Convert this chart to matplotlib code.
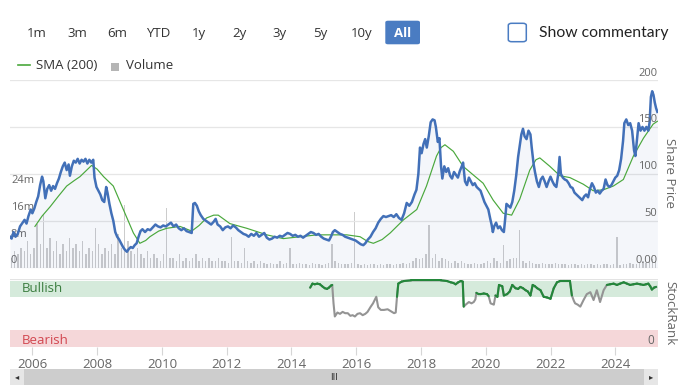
import matplotlib
matplotlib.use("Agg")
import matplotlib.pyplot as plt
import numpy as np
from matplotlib.collections import LineCollection
from matplotlib.patches import FancyBboxPatch, Rectangle
from matplotlib.lines import Line2D
import matplotlib.transforms as mtransforms

W, H = 682, 391
plt.rcParams['font.family'] = ['Open Sans', 'DejaVu Sans']

# ---------------- data ----------------
range_labels = ['1m', '3m', '6m', 'YTD', '1y', '2y', '3y', '5y', '10y', 'All']
range_x = [36.7, 77.3, 117.3, 158.3, 199.3, 239.3, 279.3, 320, 361.7, 402.7]

price_years = [
    2005.31, 2005.36, 2005.42, 2005.48, 2005.55, 2005.62, 2005.70, 2005.76, 2005.82, 2005.88,
    2005.95, 2006.00, 2006.06, 2006.12, 2006.18, 2006.24, 2006.30, 2006.34, 2006.40, 2006.46,
    2006.52, 2006.58, 2006.64, 2006.70, 2006.76, 2006.82, 2006.88, 2006.94, 2007.00, 2007.06,
    2007.12, 2007.16, 2007.22, 2007.28, 2007.34, 2007.40, 2007.46, 2007.52, 2007.58, 2007.64,
    2007.70, 2007.76, 2007.82, 2007.88, 2007.92, 2007.98, 2008.04, 2008.10, 2008.16, 2008.22,
    2008.28, 2008.32, 2008.38, 2008.44, 2008.50, 2008.56, 2008.62, 2008.68, 2008.74, 2008.80,
    2008.86, 2008.92, 2008.98, 2009.04, 2009.10, 2009.16, 2009.22, 2009.28, 2009.34, 2009.40,
    2009.48, 2009.56, 2009.64, 2009.72, 2009.80, 2009.88, 2009.96, 2010.04, 2010.12, 2010.20,
    2010.28, 2010.36, 2010.44, 2010.52, 2010.60, 2010.68, 2010.76, 2010.84, 2010.92, 2010.97,
    2011.02, 2011.08, 2011.14, 2011.20, 2011.28, 2011.36, 2011.44, 2011.52, 2011.60, 2011.66,
    2011.72, 2011.80, 2011.88, 2011.96, 2012.04, 2012.12, 2012.20, 2012.28, 2012.36, 2012.44,
    2012.52, 2012.60, 2012.68, 2012.76, 2012.84, 2012.92, 2013.00, 2013.08, 2013.16, 2013.24,
    2013.32, 2013.40, 2013.48, 2013.56, 2013.64, 2013.72, 2013.80, 2013.88, 2013.96, 2014.04,
    2014.12, 2014.20, 2014.28, 2014.36, 2014.44, 2014.52, 2014.60, 2014.68, 2014.76, 2014.84,
    2014.92, 2015.00, 2015.08, 2015.16, 2015.22, 2015.28, 2015.34, 2015.42, 2015.50, 2015.58,
    2015.66, 2015.74, 2015.82, 2015.90, 2015.98, 2016.06, 2016.14, 2016.22, 2016.28, 2016.36,
    2016.44, 2016.52, 2016.60, 2016.68, 2016.76, 2016.84, 2016.92, 2017.00, 2017.08, 2017.16,
    2017.24, 2017.32, 2017.40, 2017.48, 2017.56, 2017.64, 2017.72, 2017.80, 2017.86, 2017.92,
    2017.97, 2018.02, 2018.08, 2018.13, 2018.18, 2018.24, 2018.30, 2018.36, 2018.42, 2018.46,
    2018.52, 2018.57, 2018.62, 2018.66, 2018.72, 2018.78, 2018.84, 2018.90, 2018.96, 2019.02,
    2019.08, 2019.14, 2019.20, 2019.26, 2019.30, 2019.36, 2019.42, 2019.48, 2019.54, 2019.60,
    2019.66, 2019.72, 2019.78, 2019.84, 2019.90, 2019.96, 2020.02, 2020.08, 2020.14, 2020.18,
    2020.22, 2020.26, 2020.32, 2020.38, 2020.44, 2020.50, 2020.56, 2020.60, 2020.64, 2020.70,
    2020.76, 2020.82, 2020.88, 2020.94, 2021.00, 2021.05, 2021.10, 2021.15, 2021.20, 2021.26,
    2021.32, 2021.38, 2021.42, 2021.48, 2021.52, 2021.58, 2021.64, 2021.70, 2021.76, 2021.82,
    2021.88, 2021.94, 2022.00, 2022.06, 2022.12, 2022.18, 2022.24, 2022.28, 2022.32, 2022.38,
    2022.44, 2022.50, 2022.56, 2022.62, 2022.68, 2022.74, 2022.80, 2022.86, 2022.92, 2022.98,
    2023.04, 2023.10, 2023.16, 2023.22, 2023.28, 2023.34, 2023.40, 2023.46, 2023.52, 2023.58,
    2023.64, 2023.70, 2023.76, 2023.82, 2023.88, 2023.94, 2024.00, 2024.06, 2024.12, 2024.18,
    2024.24, 2024.28, 2024.34, 2024.40, 2024.46, 2024.52, 2024.58, 2024.62, 2024.68, 2024.72,
    2024.78, 2024.84, 2024.90, 2024.96, 2025.02, 2025.06, 2025.10, 2025.14, 2025.18, 2025.22,
    2025.26, 2025.30]
price_vals = [
    33, 31, 38, 33, 36, 44, 48, 51, 47, 55,
    62, 58, 63, 70, 76, 88, 97, 92, 74, 84,
    88, 82, 87, 84, 90, 95, 102, 108, 112, 104,
    110, 98, 108, 114, 112, 116, 111, 115, 113, 116,
    111, 115, 112, 115, 96, 86, 82, 78, 72, 70,
    86, 80, 68, 58, 50, 38, 33, 30, 26, 22,
    19, 17, 20, 22, 21, 24, 26, 33, 39, 41,
    38, 41, 40, 43, 46, 44, 43, 45, 44, 46,
    48, 44, 46, 42, 40, 42, 39, 38, 37, 68,
    69, 66, 60, 56, 52, 50, 48, 46, 49, 52,
    46, 44, 40, 43, 44, 42, 45, 43, 40, 38,
    36, 35, 33, 36, 34, 37, 33, 35, 37, 32,
    30, 31, 33, 32, 34, 33, 35, 37, 36, 34,
    35, 33, 34, 32, 34, 36, 38, 37, 35, 36,
    33, 31, 30, 29, 33, 38, 40, 38, 36, 35,
    33, 32, 31, 30, 29, 27, 25, 24, 26, 30,
    33, 38, 42, 48, 52, 55, 54, 55, 56, 54,
    57, 53, 51, 58, 69, 66, 70, 78, 83, 100,
    128, 122, 132, 137, 128, 140, 155, 158, 157, 150,
    134, 138, 108, 95, 108, 102, 106, 98, 95, 102,
    99, 96, 103, 108, 112, 92, 88, 96, 92, 88,
    90, 86, 84, 82, 76, 70, 66, 62, 52, 46,
    38, 44, 48, 42, 44, 40, 38, 52, 68, 66,
    64, 70, 82, 98, 118, 130, 142, 148, 140, 137,
    146, 142, 128, 110, 102, 92, 86, 94, 97, 92,
    86, 92, 97, 92, 88, 86, 100, 118, 100, 96,
    94, 93, 90, 86, 85, 80, 78, 76, 74, 72,
    76, 78, 75, 84, 90, 86, 80, 82, 79, 82,
    84, 94, 88, 86, 88, 92, 96, 98, 104, 116,
    135, 154, 158, 152, 154, 146, 125, 119, 140, 154,
    146, 150, 146, 150, 146, 155, 182, 188, 184, 176,
    170, 166]

sma_years = [2006.08, 2006.30, 2006.55, 2006.80, 2007.06, 2007.30, 2007.47, 2007.65, 2007.83, 2008.00,
             2008.20, 2008.50, 2008.81, 2009.12, 2009.32, 2009.50, 2009.63, 2009.90, 2010.15, 2010.56,
             2010.92, 2011.15, 2011.38, 2011.60, 2011.74, 2011.90, 2012.10, 2012.62, 2013.24, 2013.75,
             2014.27, 2014.79, 2015.30, 2015.71, 2016.12, 2016.35, 2016.53, 2016.80, 2017.05, 2017.46,
             2017.87, 2018.17, 2018.48, 2018.62, 2018.74, 2019.00, 2019.30, 2019.61, 2019.92, 2020.23,
             2020.54, 2020.80, 2021.05, 2021.36, 2021.55, 2021.67, 2021.98, 2022.29, 2022.60, 2023.01,
             2023.32, 2023.63, 2023.94, 2024.25, 2024.56, 2024.87, 2025.17, 2025.30]
sma_vals = [44, 55, 65, 76, 87, 93, 97, 103, 109, 105,
            97, 87, 62, 37, 26, 29, 33, 39, 42, 44,
            39, 45, 53, 56, 56, 52, 47, 42, 35, 31,
            33, 35, 35, 35, 33, 28, 26, 30, 37, 51,
            62, 87, 119, 128, 131, 124, 108, 99, 90, 72,
            58, 56, 73, 104, 115, 117, 108, 98, 96, 89,
            82, 83, 87, 94, 119, 138, 153, 156]

vol_first_year = 2005.35
vol_step = 0.1
volume_m = [
    3, 5, 4, 6, 5, 8, 4, 6, 13, 7,
    16, 6, 9, 5, 8, 4, 7, 5, 9, 6,
    7, 5, 8, 4, 6, 5, 12, 7, 4, 6,
    5, 7, 4, 10, 6, 18.8, 8, 5, 4, 6,
    4, 3, 5, 3, 4, 3, 2, 4, 17.8, 3,
    3, 2, 4, 2, 3, 2, 3, 4, 2, 3,
    2, 3, 2, 2, 3, 2, 2, 1.5, 9.3, 2,
    2, 1.5, 6, 2, 1.5, 2, 1.2, 2, 1.5, 1,
    1.5, 1, 1.2, 2, 1, 1.5, 5.8, 1.2, 1, 1.5,
    1, 1.2, 0.8, 1.5, 1, 1.2, 0.8, 1, 1.5, 7,
    2, 1.5, 1, 1.2, 1, 1.5, 16.8, 1.2, 0.8, 1,
    0.8, 1, 1.2, 0.8, 1, 0.8, 1.2, 1, 0.8, 1,
    1, 1.5, 1.2, 1.5, 2, 3, 2.5, 3, 4, 12.8,
    3, 4, 2, 3, 2.5, 2, 1.5, 2, 1.5, 2,
    1.5, 1.2, 1, 1.5, 1.2, 1, 1.5, 2, 1.5, 3,
    2, 1.5, 6.8, 2, 2.5, 3, 3, 11.3, 2, 1.5,
    2, 1.5, 1.2, 1, 1.5, 1, 1.2, 1, 1.5, 1,
    1.2, 1, 0.8, 1, 1.2, 0.8, 1, 0.8, 1, 1.2,
    0.8, 1, 0.8, 1.2, 1, 0.8, 1, 9.3, 0.8, 1.2,
    1, 1.5, 1.2, 1, 1.5, 2, 1.5, 2, 2.5, 2]

rank_years = [2014.58, 2014.65, 2014.72, 2014.80, 2014.88, 2014.95, 2015.03, 2015.10, 2015.16, 2015.22,
              2015.26, 2015.30, 2015.34, 2015.42, 2015.50, 2015.58, 2015.66, 2015.74, 2015.82, 2015.89,
              2015.96, 2016.04, 2016.12, 2016.20, 2016.28, 2016.35, 2016.45, 2016.52, 2016.58, 2016.62,
              2016.68, 2016.76, 2016.86, 2016.97, 2017.07, 2017.17, 2017.22, 2017.26, 2017.30, 2017.40,
              2017.48, 2017.70, 2018.00, 2018.30, 2018.61, 2018.80, 2018.92, 2019.00, 2019.07, 2019.15,
              2019.23, 2019.29, 2019.32, 2019.38, 2019.48, 2019.56, 2019.63, 2019.68, 2019.71, 2019.78,
              2019.84, 2019.94, 2020.04, 2020.09, 2020.15, 2020.25, 2020.30, 2020.36, 2020.41, 2020.51,
              2020.56, 2020.66, 2020.74, 2020.82, 2020.92, 2021.00, 2021.07, 2021.15, 2021.23, 2021.30,
              2021.38, 2021.45, 2021.52, 2021.59, 2021.69, 2021.79, 2021.89, 2022.00, 2022.10, 2022.20,
              2022.30, 2022.41, 2022.50, 2022.60, 2022.66, 2022.72, 2022.76, 2022.84, 2022.92, 2023.02,
              2023.12, 2023.23, 2023.33, 2023.43, 2023.53, 2023.64, 2023.74, 2023.84, 2023.95, 2024.05,
              2024.15, 2024.26, 2024.36, 2024.46, 2024.56, 2024.67, 2024.77, 2024.87, 2024.95, 2025.02,
              2025.08, 2025.13, 2025.20, 2025.26]
rank_vals = [90, 96, 95, 96, 95, 92, 89, 88, 90, 93,
             94, 66, 46, 52, 50, 53, 51, 51, 47, 48,
             46, 50, 51, 48, 50, 53, 61, 66, 72, 76,
             60, 56, 56, 57, 54, 51, 52, 76, 96, 99,
             100, 101, 101, 101, 101, 100, 98, 97, 95, 98,
             100, 99, 61, 64, 68, 66, 68, 72, 82, 80,
             80, 81, 80, 77, 66, 64, 78, 76, 94, 92,
             78, 80, 84, 94, 89, 88, 91, 89, 86, 84,
             78, 94, 92, 89, 86, 76, 75, 73, 89, 98,
             100, 100, 100, 100, 78, 70, 66, 64, 61, 71,
             80, 83, 71, 86, 68, 86, 94, 95, 96, 94,
             96, 98, 96, 94, 95, 96, 95, 94, 95, 96,
             92, 87, 90, 91]
rank_gray_spans = [(2015.28, 2017.27), (2019.31, 2019.70), (2020.12, 2020.28), (2022.65, 2023.70)]

year_ticks = [2006, 2008, 2010, 2012, 2014, 2016, 2018, 2020, 2022, 2024]
price_ticks = [0, 50, 100, 150, 200]
price_tick_labels = ['0.00', '50', '100', '150', '200']
vol_ticks_m = [0, 8, 16, 24]
vol_tick_labels = ['0', '8m', '16m', '24m']

# ---------------- layout helpers (pixel -> figure fraction) ----------------
def fx(x):
    return x / W

def fy(y):
    return 1 - y / H

fig = plt.figure(figsize=(W / 100, H / 100), dpi=100)
fig.patch.set_facecolor('white')

X0, X1 = 10, 657.7
main_top, main_bot = 80, 267.7
rect_main = [fx(X0), fy(main_bot), (X1 - X0) / W, (main_bot - main_top) / H]
xlim = (2005.31, 2025.31)

label_col = '#666666'

# volume axes (bottom)
ax_vol = fig.add_axes(rect_main, zorder=1)
vol_years = vol_first_year + vol_step * np.arange(len(volume_m))
ax_vol.bar(vol_years, np.array(volume_m) * 1e6, width=0.045, color='#cccccc', linewidth=0, zorder=2)
ax_vol.set_xlim(*xlim)
ax_vol.set_ylim(0, 56.3e6)
ax_vol.axis('off')

# price axes (top, transparent)
ax_p = fig.add_axes(rect_main, zorder=2)
ax_p.patch.set_alpha(0)
ax_p.set_xlim(*xlim)
ax_p.set_ylim(0, 200)
for v in price_ticks[1:]:
    ax_p.axhline(v, color='#e6e6e6', lw=0.9, zorder=0)
ax_p.axhline(0, color='#e3e3e3', lw=0.9, zorder=0)
ax_p.fill_between(price_years, price_vals, 0, color='#2a4fa8', alpha=0.05, linewidth=0, zorder=1)
ax_p.plot(sma_years, sma_vals, color='#4aa83c', lw=0.85, zorder=3)
ax_p.plot(price_years, price_vals, color='#4270b8', lw=1.8, zorder=4, solid_joinstyle='round')
ax_p.axis('off')

off = 7 * 72 / 100  # 7px in points
tr_right = mtransforms.offset_copy(ax_p.get_yaxis_transform(), fig=fig, y=off, units='points')
for v, lab in zip(price_ticks, price_tick_labels):
    ax_p.text(0.9995, v, lab, transform=tr_right, ha='right', va='center',
              fontsize=8, color=label_col, zorder=5)
tr_left = mtransforms.offset_copy(ax_vol.get_yaxis_transform(), fig=fig, y=off, units='points')
for v, lab in zip(vol_ticks_m, vol_tick_labels):
    ax_vol.text(0.0015, v * 1e6, lab, transform=tr_left, ha='left', va='center',
                fontsize=8, color=label_col, zorder=5)

fig.text(fx(670), fy(173), 'Share Price', rotation=270, ha='center', va='center',
         fontsize=9.5, color=label_col)

# ---------------- StockRank panel ----------------
r_top, r_bot = 279.3, 346.7
ax_r = fig.add_axes([fx(X0), fy(r_bot), (X1 - X0) / W, (r_bot - r_top) / H])
ax_r.set_xlim(*xlim)
ax_r.set_ylim(0, 102.6)
ax_r.axhspan(76, 100, color='#d5eadb', lw=0, zorder=0)
ax_r.axhspan(0, 25, color='#f5d7d9', lw=0, zorder=0)
ax_r.axhline(102.6, color='#e3e3e3', lw=0.9, zorder=0)
for s in ax_r.spines.values():
    s.set_visible(False)
ax_r.set_yticks([])

ry = np.array(rank_years, dtype=float)
rv = np.array(rank_vals, dtype=float)
# full line in grey, then bullish segments overdrawn in green
ax_r.plot(ry, rv, color='#949494', lw=1.5, zorder=3, solid_joinstyle='round')
mid = (ry[:-1] + ry[1:]) / 2
gray = np.zeros(len(mid), bool)
for a, b in rank_gray_spans:
    gray |= (mid >= a) & (mid <= b)
green_segs = [[(ry[i], rv[i]), (ry[i + 1], rv[i + 1])] for i in range(len(mid)) if not gray[i]]
lc = LineCollection(green_segs, colors='#23873a', linewidths=1.5, capstyle='round', zorder=4)
ax_r.add_collection(lc)

ax_r.text((21.7 - X0) / (X1 - X0), 88, 'Bullish', transform=ax_r.get_yaxis_transform(),
          ha='left', va='center', fontsize=9.5, color='#3b7d3f')
ax_r.text((21.7 - X0) / (X1 - X0), 9, 'Bearish', transform=ax_r.get_yaxis_transform(),
          ha='left', va='center', fontsize=9.5, color='#d2464f')
ax_r.text(0.995, 9, '0', transform=ax_r.get_yaxis_transform(),
          ha='right', va='center', fontsize=8.5, color=label_col)
fig.text(fx(670), fy(313), 'StockRank', rotation=270, ha='center', va='center',
         fontsize=9.5, color=label_col)

ax_r.set_xticks(year_ticks)
ax_r.set_xticklabels([str(y) for y in year_ticks])
ax_r.tick_params(axis='x', direction='out', length=5.8, width=0.8, color='#d6d6d6',
                 pad=2.5, labelsize=9.5, labelcolor=label_col)

# ---------------- scrollbar ----------------
ax_s = fig.add_axes([fx(X0), fy(385), (X1 - X0) / W, 16 / H])
ax_s.set_xlim(0, 1)
ax_s.set_ylim(0, 1)
ax_s.axis('off')
ax_s.add_patch(Rectangle((0, 0), 1, 1, color='#cdcdcd', lw=0))
bw = 14 / (X1 - X0)
ax_s.add_patch(Rectangle((0, 0), bw, 1, color='#e6e6e6', lw=0))
ax_s.add_patch(Rectangle((1 - bw, 0), bw, 1, color='#e6e6e6', lw=0))
ax_s.text(bw / 2, 0.5, '\u25c2', ha='center', va='center', fontsize=6, color='#333333',
          family='DejaVu Sans')
ax_s.text(1 - bw / 2, 0.5, '\u25b8', ha='center', va='center', fontsize=6, color='#333333',
          family='DejaVu Sans')
ax_s.text(0.5, 0.5, 'III', ha='center', va='center', fontsize=6.5, color='#333333',
          family='DejaVu Sans')

# ---------------- top controls ----------------
for lab, x in zip(range_labels, range_x):
    if lab == 'All':
        fig.patches.append(FancyBboxPatch((fx(385.3), fy(44.3)), fx(420) - fx(385.3),
                                          fy(20.7) - fy(44.3),
                                          boxstyle='round,pad=0,rounding_size=0.004',
                                          transform=fig.transFigure, facecolor='#4a7cc2',
                                          edgecolor='none'))
        fig.text(fx(x), fy(33.5), lab, ha='center', va='center', fontsize=9.5,
                 color='white', fontweight='bold')
    else:
        fig.text(fx(x), fy(33.5), lab, ha='center', va='center', fontsize=9.5, color='#333333')

fig.patches.append(FancyBboxPatch((fx(508.3), fy(41.7)), fx(526.3) - fx(508.3), fy(23.3) - fy(41.7),
                                  boxstyle='round,pad=0,rounding_size=0.005',
                                  transform=fig.transFigure, facecolor='white',
                                  edgecolor='#4a7cc2', lw=1.1))
fig.text(fx(539), fy(32.7), 'Show commentary', ha='left', va='center', fontsize=11.3,
         color='#222222', family=['Lato', 'DejaVu Sans'])

# legend
fig.lines.append(Line2D([fx(18.3), fx(30)], [fy(65), fy(65)], transform=fig.transFigure,
                        color='#4aa83c', lw=1.2))
fig.text(fx(35.5), fy(65.5), 'SMA (200)', ha='left', va='center', fontsize=9.5, color='#333333')
fig.patches.append(Rectangle((fx(111), fy(71)), fx(118.7) - fx(111), fy(63) - fy(71),
                             transform=fig.transFigure, facecolor='#b5b5b5', edgecolor='none'))
fig.text(fx(126), fy(65.5), 'Volume', ha='left', va='center', fontsize=9.5, color='#333333')

fig.savefig('out.png', dpi=100)
